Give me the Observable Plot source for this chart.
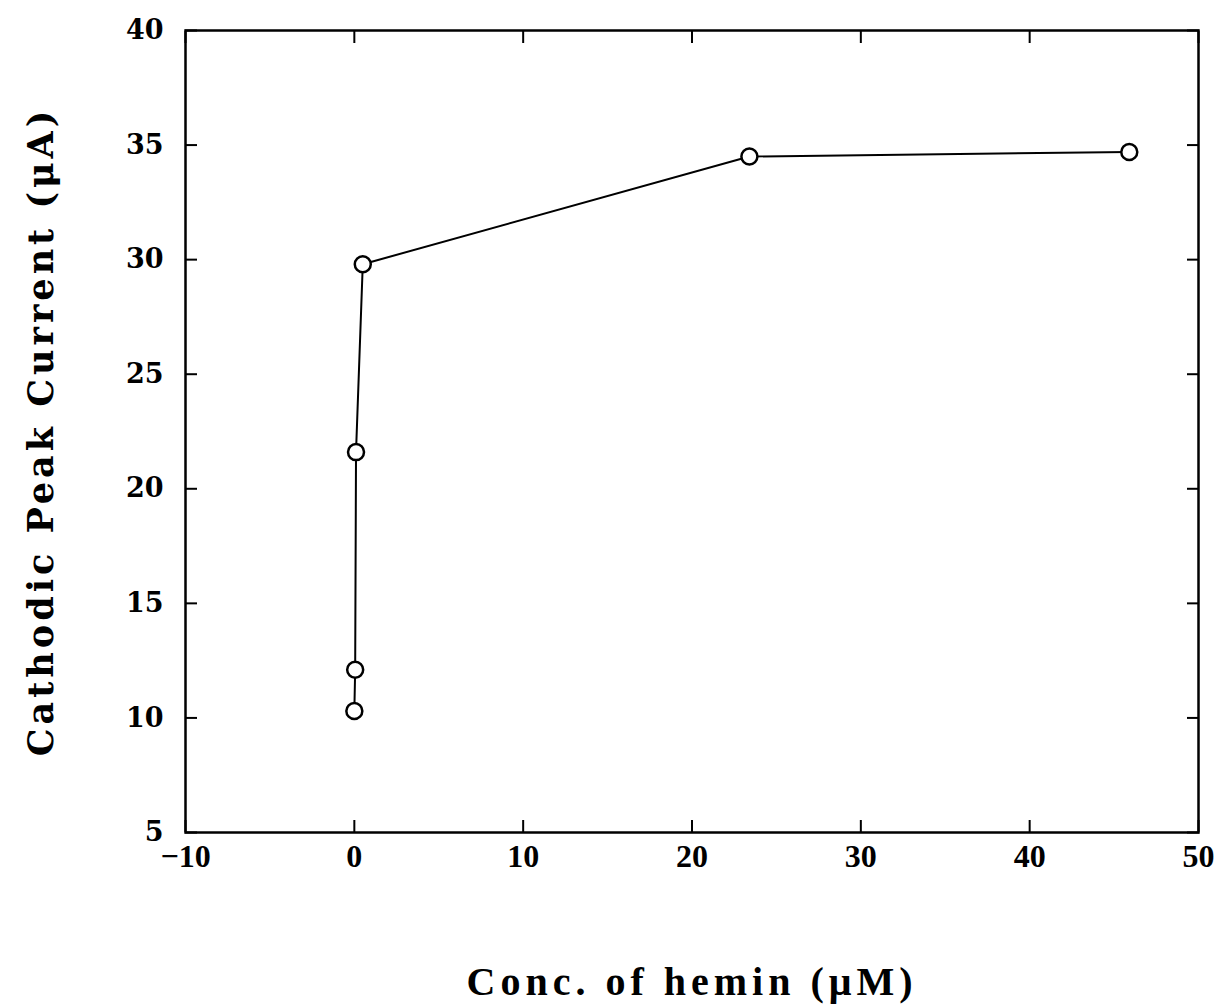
<!DOCTYPE html>
<html>
<head>
<meta charset="utf-8">
<script src="https://cdn.jsdelivr.net/npm/d3@7"></script>
<script src="https://cdn.jsdelivr.net/npm/@observablehq/plot@0.6"></script>
<style>
  html, body { margin: 0; padding: 0; background: #fff; }
  #chart { width: 1222px; height: 1007px; }
</style>
</head>
<body>
<div id="chart"></div>
<script>
const concHemin = [0, 0.05, 0.1, 0.5, 23.4, 45.9];
const peakCurrent = [10.3, 12.1, 21.6, 29.8, 34.5, 34.7];
const xTicks = [-10, 0, 10, 20, 30, 40, 50];
const yTicks = [5, 10, 15, 20, 25, 30, 35, 40];
const xLabel = "Conc. of hemin (\u03BCM)";
const yLabel = "Cathodic Peak Current (\u03BCA)";

const data = concHemin.map((x, i) => ({x, y: peakCurrent[i]}));

const plot = Plot.plot({
  width: 1222,
  height: 1007,
  marginTop: 30,
  marginBottom: 175,
  marginLeft: 185,
  marginRight: 24,
  style: {background: "#fff", color: "#000"},
  x: {domain: [-10, 50]},
  y: {domain: [5, 40]},
  marks: [
    Plot.frame({stroke: "#000", strokeWidth: 2.5}),
    Plot.axisX(xTicks, {anchor: "bottom", tickSize: -12, strokeWidth: 2, text: null, label: null}),
    Plot.axisX(xTicks, {anchor: "top", tickSize: -12, strokeWidth: 2, text: null, label: null}),
    Plot.axisY(yTicks, {anchor: "left", tickSize: -12, strokeWidth: 2, text: null, label: null}),
    Plot.axisY(yTicks, {anchor: "right", tickSize: -12, strokeWidth: 2, text: null, label: null}),
    Plot.axisX(xTicks, {anchor: "bottom", tickSize: 0, tickPadding: 12, tickFormat: d => d < 0 ? "\u2212" + Math.abs(d) : String(d),
      fontFamily: "Liberation Serif", fontWeight: "bold", fontSize: 32,
      label: xLabel, labelAnchor: "center", labelOffset: 162, labelArrow: "none"}),
    Plot.axisY(yTicks, {anchor: "left", tickSize: 0, tickPadding: 22,
      fontFamily: "DejaVu Serif", fontWeight: "bold", fontSize: 27,
      label: yLabel, labelAnchor: "center", labelOffset: 157, labelArrow: "none"}),
    Plot.line(data, {x: "x", y: "y", stroke: "#000", strokeWidth: 2}),
    Plot.dot(data, {x: "x", y: "y", r: 8, stroke: "#000", strokeWidth: 2.5, fill: "#fff"})
  ]
});

// style axis labels
d3.select(plot).selectAll("[aria-label='x-axis label'] text")
  .attr("font-family", "Liberation Serif").attr("font-weight", "bold").attr("font-size", 40).style("letter-spacing", "5px");
d3.select(plot).selectAll("[aria-label='y-axis label'] text")
  .attr("font-family", "DejaVu Serif").attr("font-weight", "bold").attr("font-size", 35).style("letter-spacing", "4px");

document.getElementById("chart").appendChild(plot);
</script>
</body>
</html>
